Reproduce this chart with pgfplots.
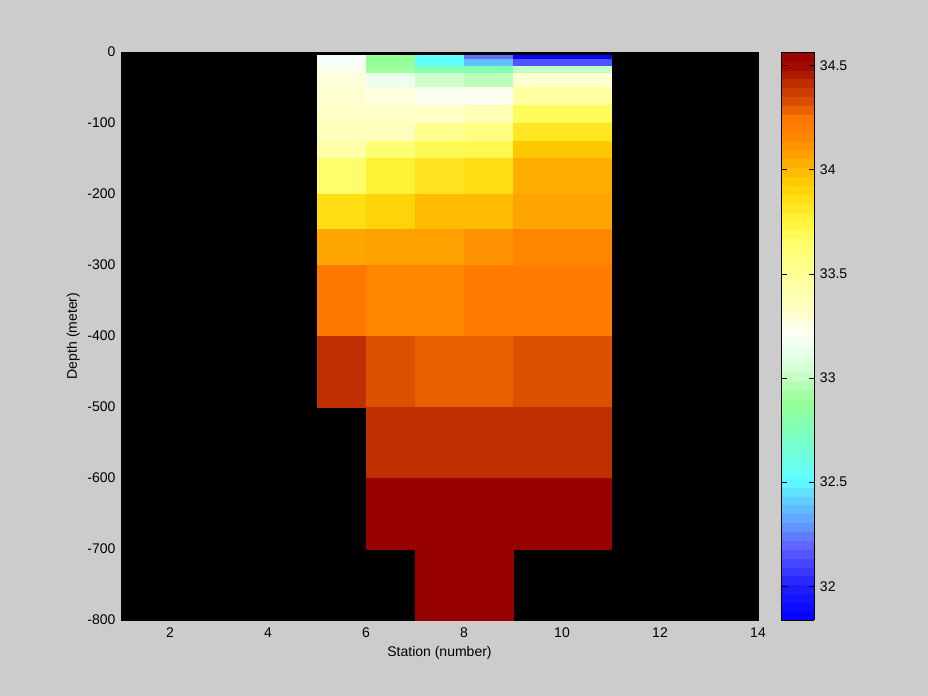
\documentclass[border=0pt]{standalone}
\usepackage{pgfplots}
\pgfplotsset{compat=1.18}
\usepgfplotslibrary{patchplots}
\usepackage{fontspec}
\setmainfont{Liberation Sans}
\definecolor{figbg}{RGB}{204,204,204}
\pgfplotsset{colormap={ctd}{
rgb255(0pt)=(0,0,255)
rgb255(162pt)=(30,30,255)
rgb255(352pt)=(96,96,255)
rgb255(470pt)=(96,160,255)
rgb255(583pt)=(96,210,255)
rgb255(680pt)=(96,255,255)
rgb255(863pt)=(120,255,200)
rgb255(1050pt)=(150,255,150)
rgb255(1213pt)=(215,255,215)
rgb255(1370pt)=(250,255,250)
rgb255(1483pt)=(255,255,200)
rgb255(1663pt)=(255,255,150)
rgb255(1803pt)=(255,255,110)
rgb255(1913pt)=(255,245,60)
rgb255(2023pt)=(255,222,20)
rgb255(2113pt)=(255,200,0)
rgb255(2203pt)=(255,170,0)
rgb255(2303pt)=(255,140,0)
rgb255(2403pt)=(255,120,0)
rgb255(2483pt)=(220,80,0)
rgb255(2573pt)=(190,48,0)
rgb255(2643pt)=(165,15,0)
rgb255(2726pt)=(150,0,0)
}}
\begin{document}
\fontsize{10.5pt}{12.6pt}\selectfont
\begin{tikzpicture}
\fill[figbg] (0,0) rectangle (696pt,522pt);
\begin{axis}[
  at={(90.75pt,57pt)}, anchor=south west,
  scale only axis, width=477.75pt, height=426pt,
  xmin=1, xmax=14, ymin=-800, ymax=0,
  xtick={2,4,6,8,10,12,14}, ytick={-800,-700,-600,-500,-400,-300,-200,-100,0},
  tick align=inside, major tick length=4pt,
  tick style={black},
  axis line style={black},
  axis background/.style={fill=black},
  /pgf/number format/assume math mode=true,
  xticklabel style={yshift=-2pt},
  yticklabel style={xshift=-0.5pt},
  xlabel={Station (number)}, ylabel={Depth (meter)},
  xlabel style={at={(axis description cs:0.5,-0.0651)}, anchor=base},
  ylabel style={at={(axis description cs:-0.0691,0.5)}, anchor=base},
  colormap name=ctd, point meta min=31.838, point meta max=34.564,
  colorbar sampled,
  colorbar style={
    at={(parent axis.north east)}, anchor=north west, xshift=9pt,
    scale only axis, width=24.75pt, height=426pt,
    samples=65,
    ytick={32,32.5,33,33.5,34,34.5},
    ytick pos=both, yticklabel pos=right,
    tick align=inside, major tick length=4pt,
    tick style={black},
    axis line style={black},
    /pgf/number format/assume math mode=true,
    yticklabel style={xshift=0.5pt},
  },
]
\addplot[patch, patch type=rectangle, shader=faceted, faceted color=mapped color, line width=0.3pt, point meta=explicit] coordinates {
(5,-5)[33.20] (6,-5)[33.20] (6,-10)[33.20] (5,-10)[33.20]
(5,-10)[33.20] (6,-10)[33.20] (6,-20)[33.20] (5,-20)[33.20]
(5,-20)[33.25] (6,-20)[33.25] (6,-30)[33.25] (5,-30)[33.25]
(5,-30)[33.28] (6,-30)[33.28] (6,-50)[33.28] (5,-50)[33.28]
(5,-50)[33.30] (6,-50)[33.30] (6,-75)[33.30] (5,-75)[33.30]
(5,-75)[33.32] (6,-75)[33.32] (6,-100)[33.32] (5,-100)[33.32]
(5,-100)[33.36] (6,-100)[33.36] (6,-125)[33.36] (5,-125)[33.36]
(5,-125)[33.43] (6,-125)[33.43] (6,-150)[33.43] (5,-150)[33.43]
(5,-150)[33.65] (6,-150)[33.65] (6,-200)[33.65] (5,-200)[33.65]
(5,-200)[33.86] (6,-200)[33.86] (6,-250)[33.86] (5,-250)[33.86]
(5,-250)[34.05] (6,-250)[34.05] (6,-300)[34.05] (5,-300)[34.05]
(5,-300)[34.24] (6,-300)[34.24] (6,-400)[34.24] (5,-400)[34.24]
(5,-400)[34.41] (6,-400)[34.41] (6,-500)[34.41] (5,-500)[34.41]
(6,-5)[32.88] (7,-5)[32.88] (7,-10)[32.88] (6,-10)[32.88]
(6,-10)[32.88] (7,-10)[32.88] (7,-20)[32.88] (6,-20)[32.88]
(6,-20)[32.91] (7,-20)[32.91] (7,-30)[32.91] (6,-30)[32.91]
(6,-30)[33.15] (7,-30)[33.15] (7,-50)[33.15] (6,-50)[33.15]
(6,-50)[33.27] (7,-50)[33.27] (7,-75)[33.27] (6,-75)[33.27]
(6,-75)[33.32] (7,-75)[33.32] (7,-100)[33.32] (6,-100)[33.32]
(6,-100)[33.36] (7,-100)[33.36] (7,-125)[33.36] (6,-125)[33.36]
(6,-125)[33.62] (7,-125)[33.62] (7,-150)[33.62] (6,-150)[33.62]
(6,-150)[33.77] (7,-150)[33.77] (7,-200)[33.77] (6,-200)[33.77]
(6,-200)[33.91] (7,-200)[33.91] (7,-250)[33.91] (6,-250)[33.91]
(6,-250)[34.07] (7,-250)[34.07] (7,-300)[34.07] (6,-300)[34.07]
(6,-300)[34.17] (7,-300)[34.17] (7,-400)[34.17] (6,-400)[34.17]
(6,-400)[34.32] (7,-400)[34.32] (7,-500)[34.32] (6,-500)[34.32]
(6,-500)[34.41] (7,-500)[34.41] (7,-600)[34.41] (6,-600)[34.41]
(6,-600)[34.56] (7,-600)[34.56] (7,-700)[34.56] (6,-700)[34.56]
(7,-5)[32.52] (8,-5)[32.52] (8,-10)[32.52] (7,-10)[32.52]
(7,-10)[32.52] (8,-10)[32.52] (8,-20)[32.52] (7,-20)[32.52]
(7,-20)[32.78] (8,-20)[32.78] (8,-30)[32.78] (7,-30)[32.78]
(7,-30)[33.03] (8,-30)[33.03] (8,-50)[33.03] (7,-50)[33.03]
(7,-50)[33.23] (8,-50)[33.23] (8,-75)[33.23] (7,-75)[33.23]
(7,-75)[33.32] (8,-75)[33.32] (8,-100)[33.32] (7,-100)[33.32]
(7,-100)[33.54] (8,-100)[33.54] (8,-125)[33.54] (7,-125)[33.54]
(7,-125)[33.70] (8,-125)[33.70] (8,-150)[33.70] (7,-150)[33.70]
(7,-150)[33.83] (8,-150)[33.83] (8,-200)[33.83] (7,-200)[33.83]
(7,-200)[33.99] (8,-200)[33.99] (8,-250)[33.99] (7,-250)[33.99]
(7,-250)[34.07] (8,-250)[34.07] (8,-300)[34.07] (7,-300)[34.07]
(7,-300)[34.17] (8,-300)[34.17] (8,-400)[34.17] (7,-400)[34.17]
(7,-400)[34.29] (8,-400)[34.29] (8,-500)[34.29] (7,-500)[34.29]
(7,-500)[34.41] (8,-500)[34.41] (8,-600)[34.41] (7,-600)[34.41]
(7,-600)[34.56] (8,-600)[34.56] (8,-700)[34.56] (7,-700)[34.56]
(7,-700)[34.56] (8,-700)[34.56] (8,-800)[34.56] (7,-800)[34.56]
(8,-5)[32.22] (9,-5)[32.22] (9,-10)[32.22] (8,-10)[32.22]
(8,-10)[32.38] (9,-10)[32.38] (9,-20)[32.38] (8,-20)[32.38]
(8,-20)[32.78] (9,-20)[32.78] (9,-30)[32.78] (8,-30)[32.78]
(8,-30)[32.98] (9,-30)[32.98] (9,-50)[32.98] (8,-50)[32.98]
(8,-50)[33.23] (9,-50)[33.23] (9,-75)[33.23] (8,-75)[33.23]
(8,-75)[33.39] (9,-75)[33.39] (9,-100)[33.39] (8,-100)[33.39]
(8,-100)[33.57] (9,-100)[33.57] (9,-125)[33.57] (8,-125)[33.57]
(8,-125)[33.71] (9,-125)[33.71] (9,-150)[33.71] (8,-150)[33.71]
(8,-150)[33.86] (9,-150)[33.86] (9,-200)[33.86] (8,-200)[33.86]
(8,-200)[33.99] (9,-200)[33.99] (9,-250)[33.99] (8,-250)[33.99]
(8,-250)[34.12] (9,-250)[34.12] (9,-300)[34.12] (8,-300)[34.12]
(8,-300)[34.22] (9,-300)[34.22] (9,-400)[34.22] (8,-400)[34.22]
(8,-400)[34.29] (9,-400)[34.29] (9,-500)[34.29] (8,-500)[34.29]
(8,-500)[34.41] (9,-500)[34.41] (9,-600)[34.41] (8,-600)[34.41]
(8,-600)[34.56] (9,-600)[34.56] (9,-700)[34.56] (8,-700)[34.56]
(8,-700)[34.56] (9,-700)[34.56] (9,-800)[34.56] (8,-800)[34.56]
(9,-5)[31.86] (11,-5)[31.86] (11,-10)[31.86] (9,-10)[31.86]
(9,-10)[32.15] (11,-10)[32.15] (11,-20)[32.15] (9,-20)[32.15]
(9,-20)[33.00] (11,-20)[33.00] (11,-30)[33.00] (9,-30)[33.00]
(9,-30)[33.30] (11,-30)[33.30] (11,-50)[33.30] (9,-50)[33.30]
(9,-50)[33.47] (11,-50)[33.47] (11,-75)[33.47] (9,-75)[33.47]
(9,-75)[33.68] (11,-75)[33.68] (11,-100)[33.68] (9,-100)[33.68]
(9,-100)[33.82] (11,-100)[33.82] (11,-125)[33.82] (9,-125)[33.82]
(9,-125)[33.95] (11,-125)[33.95] (11,-150)[33.95] (9,-150)[33.95]
(9,-150)[34.03] (11,-150)[34.03] (11,-200)[34.03] (9,-200)[34.03]
(9,-200)[34.06] (11,-200)[34.06] (11,-250)[34.06] (9,-250)[34.06]
(9,-250)[34.17] (11,-250)[34.17] (11,-300)[34.17] (9,-300)[34.17]
(9,-300)[34.22] (11,-300)[34.22] (11,-400)[34.22] (9,-400)[34.22]
(9,-400)[34.32] (11,-400)[34.32] (11,-500)[34.32] (9,-500)[34.32]
(9,-500)[34.41] (11,-500)[34.41] (11,-600)[34.41] (9,-600)[34.41]
(9,-600)[34.56] (11,-600)[34.56] (11,-700)[34.56] (9,-700)[34.56]
};
\end{axis}
\end{tikzpicture}
\end{document}
